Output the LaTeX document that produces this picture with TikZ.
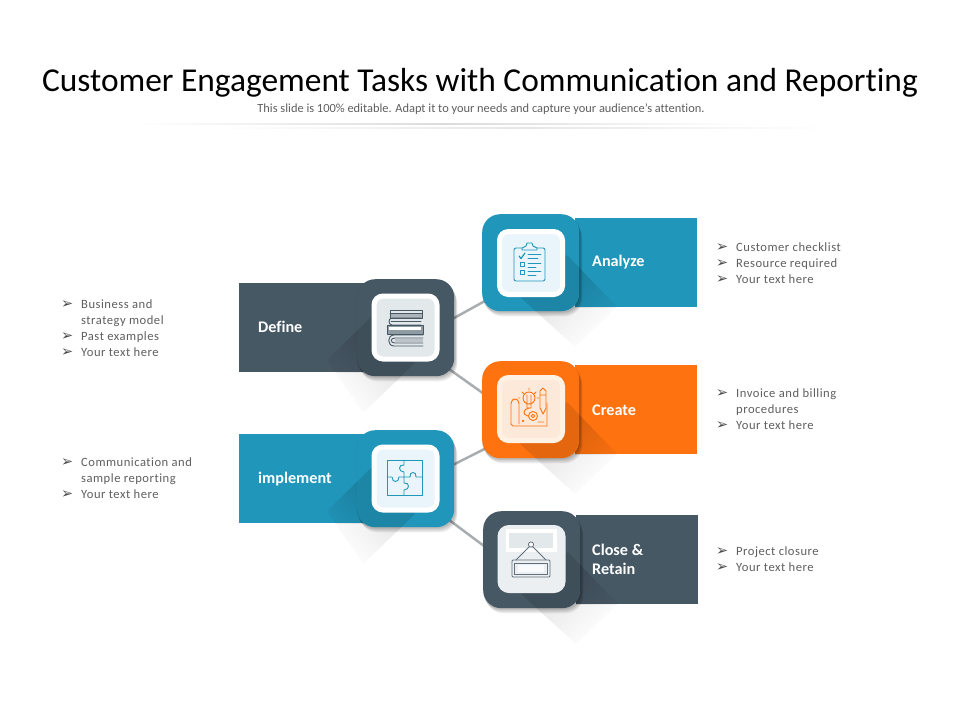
\documentclass[tikz,border=0pt]{standalone}
\usepackage{fontspec}
\setmainfont[Ligatures=NoCommon]{Carlito}
\newfontfamily\dejavu{DejaVu Sans}
\newfontfamily\bodyfont[LetterSpace=4,Ligatures=NoCommon]{Carlito}
\usetikzlibrary{fadings,calc}
\tikzfading[name=lsfade, top color=transparent!0, bottom color=transparent!100]
\pgfdeclarelayer{bg}
\pgfsetlayers{bg,main}
\definecolor{cblue}{HTML}{2196BB}
\definecolor{cslate}{HTML}{475865}
\definecolor{corange}{HTML}{FE7210}
\definecolor{ptblue}{HTML}{E9F5FA}
\definecolor{ptslate}{HTML}{E3E8EB}
\definecolor{ptorange}{HTML}{FCE9DA}
\definecolor{txtgray}{HTML}{5F5F5F}
\definecolor{lnk}{HTML}{A9ADB0}
\tikzset{
  x=1pt,y=-1pt,
  barbox/.style={rectangle,inner sep=0pt,minimum width=#1,minimum height=89pt,anchor=north west},
  tilebox/.style={rectangle,inner sep=0pt,minimum size=97pt,rounded corners=18pt,anchor=north west},
  panel/.style={rectangle,inner sep=0pt,minimum size=63pt,rounded corners=9pt,line width=5pt,anchor=center},
  barlabel/.style={anchor=base west,inner sep=0pt,text=white,font=\fontsize{16.2}{19}\selectfont\bfseries,align=left},
  bullets/.style={anchor=north west,inner sep=0pt,text=txtgray,align=left,font=\fontsize{12.6}{16}\bodyfont},
  link/.style={draw=lnk,line width=2.5pt},
  ico/.style={line width=0.9pt,line cap=round,line join=round}
}
\newcommand{\bl}[1]{\makebox[19pt][l]{\hspace*{-1pt}\fontsize{14.5}{16}\dejavu\textcolor{black!70}{➢}}#1}
\newcommand{\bc}[1]{\hspace*{19pt}#1}
\newcommand{\softshadow}[2]{%
  \foreach \k in {1,...,6}{
    \fill[black,opacity=.05,rounded corners=18pt]
      ($(#1,#2)+(1.2*\k/2,1.2*\k)+(-1,0)$) rectangle ++(97+2-\k*.2,97-\k*.3);
  }}
% #1 bar name #2 tile name #3 bar x #4 bar width #5 tile x #6 tile y #7 colour #8 long shadow polygon #9 fading angle
\newcommand{\tilegroup}[9]{%
  \path[fill=black,opacity=.14,path fading=lsfade,fading angle=#9] #8;
  \node[barbox=#4pt,fill=#7] (#1) at (#3,#6+4) {};
  \softshadow{#5}{#6}
  \begin{scope}
    \clip (#1.north west) rectangle (#1.south east);
    \path[fill=black,opacity=.22,path fading=lsfade,fading angle=#9] #8;
  \end{scope}
  \node[tilebox,fill=#7] (#2) at (#5,#6) {};
  \begin{scope}
    \clip[rounded corners=18pt] (#5,#6) rectangle ++(97,97);
    \path[fill=black,opacity=.10] #8;
  \end{scope}
}
\begin{document}
\begin{tikzpicture}
\useasboundingbox (0,0) rectangle (960,720);
\begin{pgfonlayer}{bg}
\fill[white] (0,0) rectangle (960,720);
\end{pgfonlayer}

% title
\node[anchor=base,inner sep=0pt,text=black,font=\fontsize{33.4}{38}\selectfont] (title) at (480,91) {Customer Engagement Tasks with Communication and Reporting};
\node[anchor=base,inner sep=0pt,text=txtgray,font=\fontsize{12.4}{15}\selectfont] (sub) at (481,112) {This slide is 100\% editable. Adapt it to your needs and capture your audience's attention.};
\shade[left color=white,right color=white,middle color=black!14] (135,123.5) rectangle (750,124.5);
\shade[left color=white,right color=white,middle color=black!10] (210,127.5) rectangle (830,128.5);

% tiles
\tilegroup{bAna}{tAna}{575}{122}{482}{214}{cblue}{(567,255) -- (617,307) -- (575,347) -- (520,297) -- cycle}{45}
\tilegroup{bCre}{tCre}{575}{122}{482}{361}{corange}{(567,402) -- (617,454) -- (575,494) -- (520,444) -- cycle}{45}
\tilegroup{bClo}{tClo}{576}{122}{483}{511}{cslate}{(568,552) -- (618,604) -- (576,644) -- (521,594) -- cycle}{45}
\tilegroup{bDef}{tDef}{239}{135}{357}{279}{cslate}{(372,316) -- (327,360) -- (363,413) -- (415,363) -- cycle}{-45}
\tilegroup{bImp}{tImp}{239}{135}{357}{430}{cblue}{(372,467) -- (327,511) -- (363,564) -- (415,514) -- cycle}{-45}

% connectors
\begin{pgfonlayer}{bg}
\draw[link] ([xshift=-7pt,yshift=6pt]tDef.east) -- ([xshift=8pt,yshift=-35.5pt]tAna.west);
\draw[link] ([xshift=-8pt,yshift=-39.5pt]tDef.east) -- ([xshift=8pt,yshift=11.5pt]tCre.west);
\draw[link] ([xshift=-7pt,yshift=11pt]tImp.east) -- ([xshift=8pt,yshift=-36.5pt]tCre.west);
\draw[link] ([xshift=-9pt,yshift=-38.5pt]tImp.east) -- ([xshift=8pt,yshift=8.5pt]tClo.west);
\end{pgfonlayer}

% panels
\node[panel,draw=white,fill=ptblue] (pAna) at (531,263) {};
\node[panel,draw=white,fill=ptslate] (pDef) at (405.5,327.5) {};
\node[panel,draw=white!90!orange,fill=ptorange] (pCre) at (531,409) {};
\node[panel,draw=white,fill=ptblue] (pImp) at (405.5,478.5) {};
\node[panel,draw=ptslate!70!white,fill=ptslate!70!white] (pClo) at (531.5,559) {};

% clipboard
\begin{scope}[shift={(514,243)},ico]
\draw[cblue,rounded corners=2pt] (8,5) -- (0,5) -- (0,38) -- (31,38) -- (31,5) -- (23,5);
\draw[cblue] (8,7) -- (8,5) -- (12,3) -- (13,0) -- (18,0) -- (19,3) -- (23,5) -- (23,7) -- cycle;
\draw[cblue,line width=1.2pt] (5,13) -- (7,15.5) -- (11,10);
\draw[cblue] (6,19) rectangle (10,23) (6,27) rectangle (10,31);
\draw[cblue] (14,11) -- (27,11) (14,15) -- (24,15) (14,20) -- (27,20) (14,24) -- (22,24) (14,28) -- (27,28) (14,32) -- (22,32);
\end{scope}

% books
\begin{scope}[shift={(387,310)},ico]
\fill[cslate!45] (4,3) rectangle (35,8);
\draw[cslate] (3,0) rectangle (35,8) (3,3) -- (35,3);
\draw[cslate] (34,8) -- (5,8) .. controls (1,8) and (1,15) .. (5,15) -- (34,15) (4,11.5) -- (34,11.5);
\draw[cslate,fill=cslate!60] (0,15) rectangle (36,24);
\fill[white] (2,17) rectangle (34,19.5);
\draw[cslate] (36,25) -- (7,25) .. controls (0,25) and (0,36) .. (7,36) -- (36,36) (36,28) -- (8,28) .. controls (3,28) and (3,33) .. (8,33) -- (36,33);
\fill[cslate!35] (8,29) rectangle (36,32);
\end{scope}

% idea plan
\begin{scope}[shift={(511,388)},ico]
\draw[corange,rounded corners=3pt] (0,36) -- (0,13) -- (4,10) -- (8,13) -- (8,36);
\draw[corange] (0,36) -- (2,38) -- (36,38) -- (36,15);
\draw[corange] (18,10) circle[radius=6] (16,15) -- (16,20) -- (20,20) -- (20,15) (16,7) -- (16,15) (20,7) -- (20,15);
\draw[corange] (18,0) -- (18,2) (9,10) -- (7.5,10) (11,4) -- (12.5,5.5) (25,4) -- (23.5,5.5) (26,10) -- (28,10);
\draw[corange] (29,3) -- (32,0) -- (35,3) -- (35,20) -- (32,26) -- (29,20) -- cycle (29,7) -- (35,7);
\draw[corange] (22,28) circle[radius=1.8] (22,28) circle[radius=4.5];
\draw[corange] (18,20) .. controls (12,21) and (11,27) .. (17,28);
\draw[corange] (12,33) circle[radius=.7] (27,34) -- (33,34);
\end{scope}

% puzzle
\begin{scope}[shift={(387,460)},ico]
\draw[cblue] (0,0) rectangle (35,35);
\draw[cblue] (17,0) -- (17,5) .. controls (11,4) and (11,12) .. (17,12) -- (17,17) -- (23,17) .. controls (22,11) and (30,11) .. (29,17) -- (35,17);
\draw[cblue] (0,17) -- (5,17) .. controls (5,23) and (12,23) .. (12,17) -- (17,17) -- (17,23) .. controls (23,22) and (23,30) .. (17,30) -- (17,35);
\end{scope}

% hanging sign
\fill[white] (506,529) rectangle (557,552);
\fill[ptslate] (509,533) rectangle (553,548);
\begin{scope}[ico,line width=.8pt]
\draw[cslate!85,fill=white] (531,544.5) circle[radius=2.6];
\draw[cslate!85] (529.5,546.5) -- (516,560) (532.5,546.5) -- (546,560);
\draw[cslate!85,rounded corners=1pt] (512,560) rectangle (550,577);
\draw[cslate!85] (514.5,563) rectangle (547.5,574.5);
\fill[white,opacity=.75] (518,565) rectangle (544,572);
\end{scope}

% labels
\node[barlabel] (lAna) at (592,266) {Analyze};
\node[barlabel] (lDef) at (258,332) {Define};
\node[barlabel] (lCre) at (592,415) {Create};
\node[barlabel] (lImp) at (258,483) {implement};
\node[barlabel,anchor=north west] (lClo) at (592,544) {Close \&\\Retain};

% lists
\node[bullets] (n1) at (62,300) {\bl{Business and}\\\bc{strategy model}\\\bl{Past examples}\\\bl{Your text here}};
\node[bullets] (n2) at (62,458) {\bl{Communication and}\\\bc{sample reporting}\\\bl{Your text here}};
\node[bullets] (n3) at (717,243) {\bl{Customer checklist}\\\bl{Resource required}\\\bl{Your text here}};
\node[bullets] (n4) at (717,389) {\bl{Invoice and billing}\\\bc{procedures}\\\bl{Your text here}};
\node[bullets] (n5) at (717,547) {\bl{Project closure}\\\bl{Your text here}};
\end{tikzpicture}
\end{document}
